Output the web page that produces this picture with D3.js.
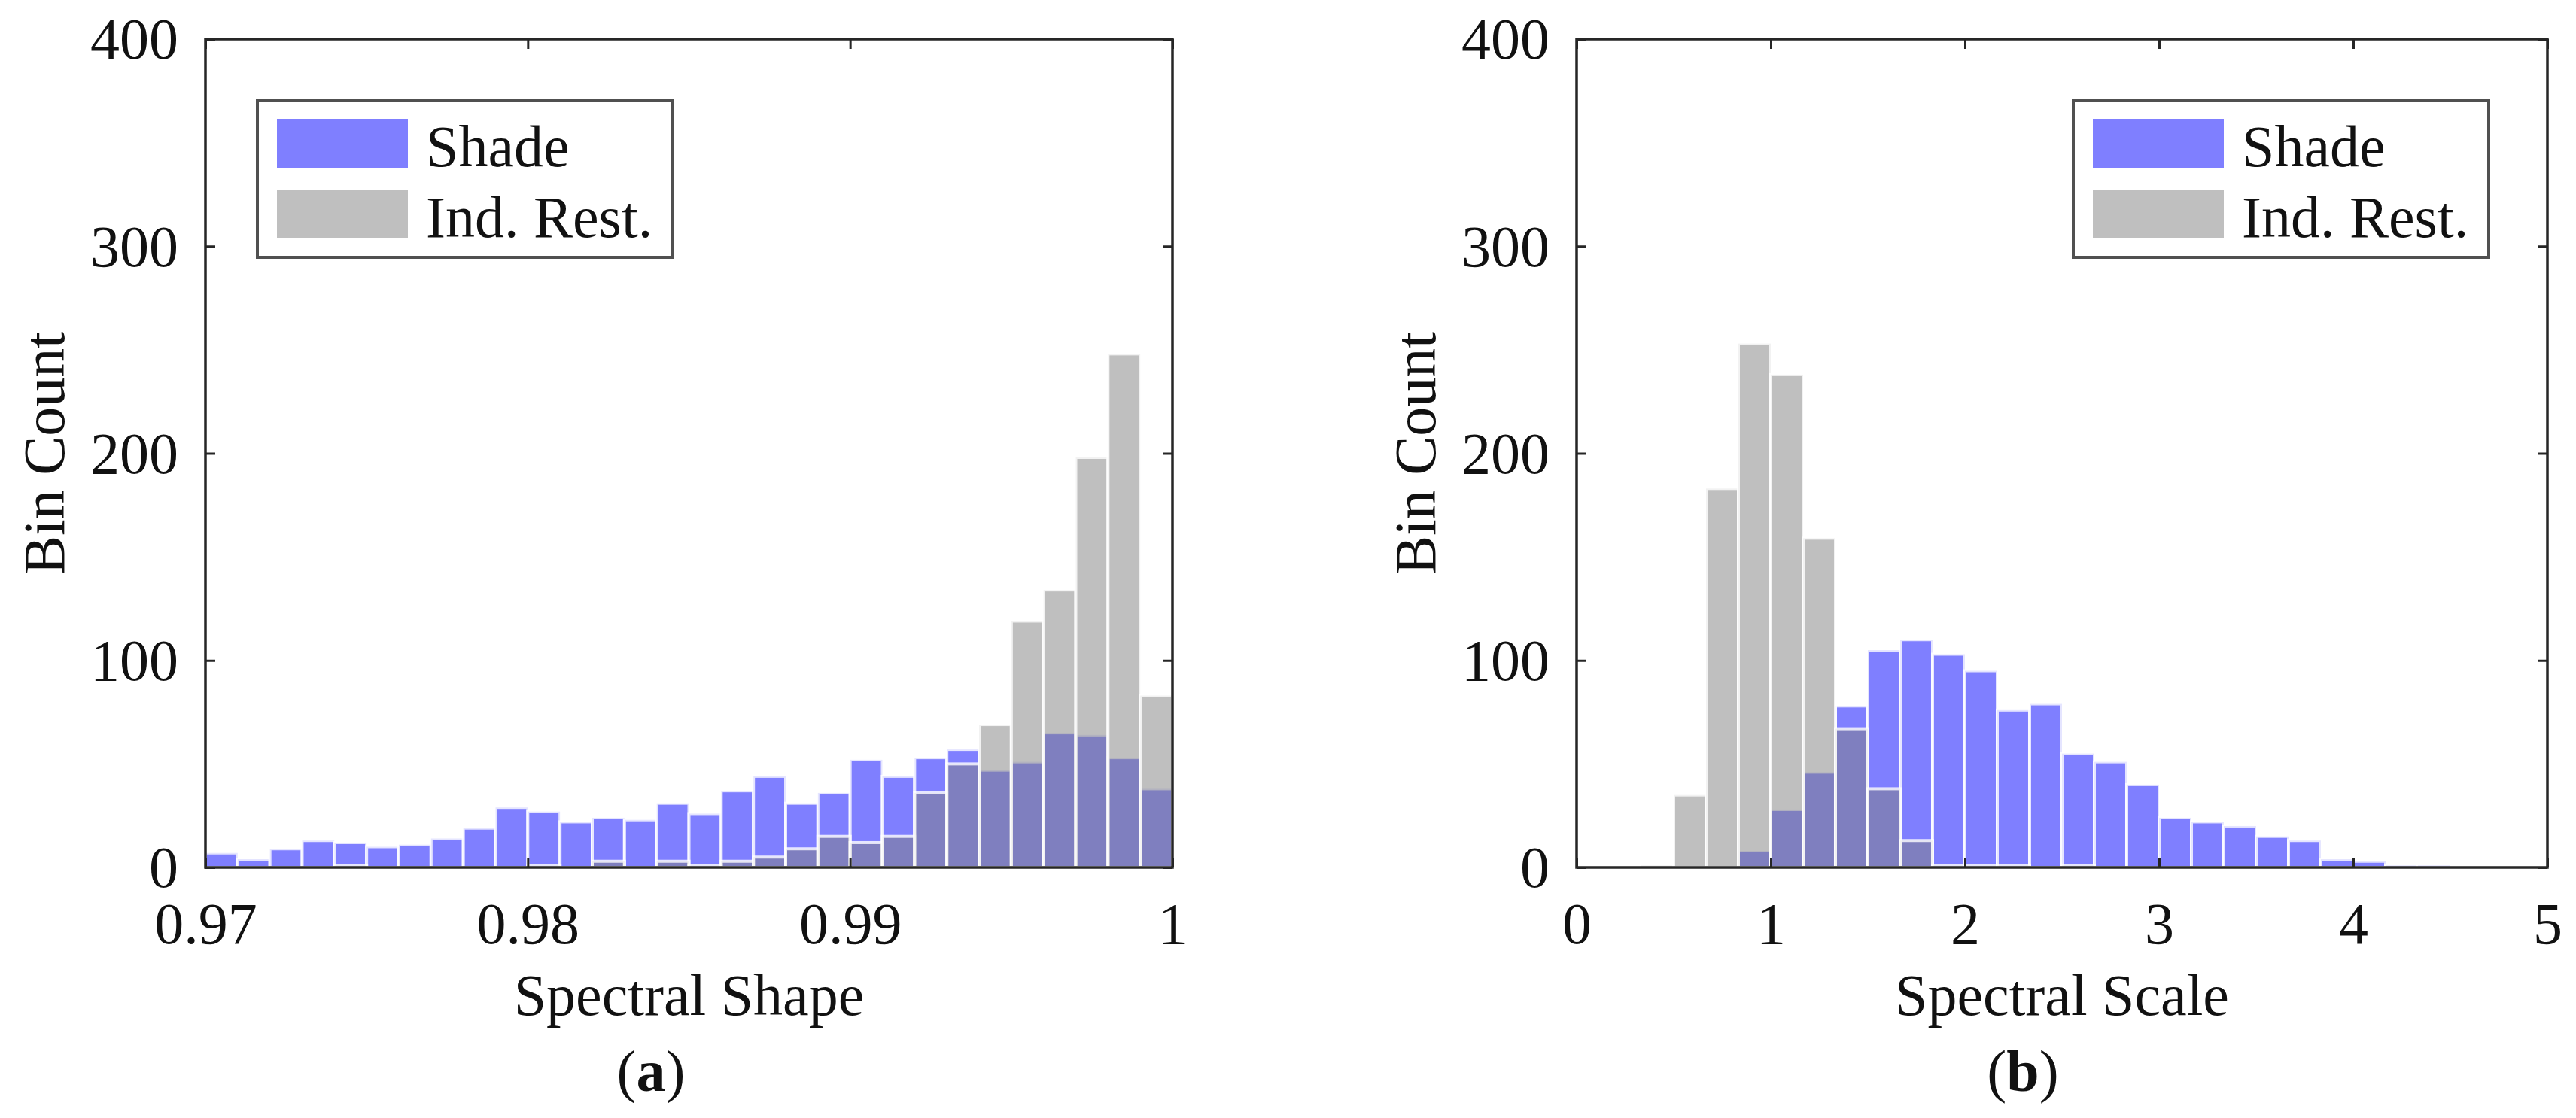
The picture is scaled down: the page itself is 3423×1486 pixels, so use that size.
<!DOCTYPE html>
<html>
<head>
<meta charset="utf-8">
<script src="https://cdn.jsdelivr.net/npm/d3@7"></script>
<style>
  html, body { margin: 0; padding: 0; background: #fff; }
  svg { display: block; }
  text { font-family: "Liberation Serif", "Times New Roman", serif; fill: #111; }
</style>
</head>
<body>
<svg id="chart" width="3423" height="1486"></svg>
<script>
// ---------------- DATA ----------------
// Panel (a): Spectral Shape, bin edges
const shapeEdges = [0.970, 0.971, 0.972, 0.973, 0.974, 0.975, 0.976, 0.977, 0.978, 0.979,
                    0.980, 0.981, 0.982, 0.983, 0.984, 0.985, 0.986, 0.987, 0.988, 0.989,
                    0.990, 0.991, 0.992, 0.993, 0.994, 0.995, 0.996, 0.997, 0.998, 0.999, 1.000];
const shapeShade   = [7, 4, 9, 13, 12, 10, 11, 14, 19, 29, 27, 22, 24, 23, 31, 26, 37, 44, 31, 36,
                      52, 44, 53, 57, 47, 51, 65, 64, 53, 38];
const shapeIndRest = [0, 0, 0, 0, 1, 0, 0, 0, 0, 0, 1, 0, 3, 0, 3, 1, 3, 5, 9, 15,
                      12, 15, 36, 50, 69, 119, 134, 198, 248, 83];
const shapeTicks = [0.97, 0.98, 0.99, 1.0];
const shapeTickLabels = ["0.97", "0.98", "0.99", "1"];

// Panel (b): Spectral Scale, bin edges
const scaleEdges = [0, 0.1667, 0.3333, 0.5, 0.6667, 0.8333, 1, 1.1667, 1.3333, 1.5, 1.6667, 1.8333,
                    2, 2.1667, 2.3333, 2.5, 2.6667, 2.8333, 3, 3.1667, 3.3333, 3.5, 3.6667, 3.8333,
                    4, 4.1667, 4.3333, 4.5, 4.6667, 4.8333, 5];
const scaleShade   = [0, 0, 0, 0, 0, 8, 28, 46, 78, 105, 110, 103, 95, 76, 79, 55, 51, 40, 24, 22,
                      20, 15, 13, 4, 3, 1, 1, 0, 0, 0];
const scaleIndRest = [0, 0, 1, 35, 183, 253, 238, 159, 67, 38, 13, 1, 1, 1, 0, 1, 0, 0, 0, 0,
                      0, 0, 0, 0, 0, 0, 0, 0, 0, 0];
const scaleTicks = [0, 1, 2, 3, 4, 5];
const scaleTickLabels = ["0", "1", "2", "3", "4", "5"];

const yTicks = [0, 100, 200, 300, 400];
const yTickLabels = ["0", "100", "200", "300", "400"];
const seriesNames = ["Shade", "Ind. Rest."];
const xTitles = ["Spectral Shape", "Spectral Scale"];
const yTitle = "Bin Count";
const captions = ["a", "b"];

// ---------------- STYLE ----------------
const FS = 78;
const axisColor = "#262626";
const shadeFill = "rgb(0,0,255)";
const restFill = "rgb(128,128,128)";

const svg = d3.select("#chart");

function panel(cfg) {
  const {x0, x1, y0, y1, edges, shade, rest, domain, ticks, tickLabels, xTitle, caption, captionX, legend} = cfg;
  const x = d3.scaleLinear().domain(domain).range([x0, x1]);
  const y = d3.scaleLinear().domain([0, 400]).range([y0, y1]);
  const g = svg.append("g");

  const bins = shade.map((v, i) => ({a: edges[i], b: edges[i + 1], shade: v, rest: rest[i]}));

  // Shade bars (drawn first)
  g.append("g").selectAll("rect").data(bins.filter(d => d.shade > 0)).join("rect")
    .attr("x", d => x(d.a)).attr("width", d => x(d.b) - x(d.a))
    .attr("y", d => y(d.shade)).attr("height", d => y(0) - y(d.shade))
    .attr("fill", shadeFill).attr("fill-opacity", 0.5)
    .attr("stroke", "#fff").attr("stroke-opacity", 0.8).attr("stroke-width", 4);

  // Ind. Rest. bars (on top)
  g.append("g").selectAll("rect").data(bins.filter(d => d.rest > 0)).join("rect")
    .attr("x", d => x(d.a)).attr("width", d => x(d.b) - x(d.a))
    .attr("y", d => y(d.rest)).attr("height", d => y(0) - y(d.rest))
    .attr("fill", restFill).attr("fill-opacity", 0.5)
    .attr("stroke", "#fff").attr("stroke-opacity", 0.8).attr("stroke-width", 4);

  // Axes
  const tl = 13;
  const xb = g.append("g").attr("transform", `translate(0,${y0})`)
    .call(d3.axisBottom(x).tickValues(ticks).tickSize(-tl).tickPadding(46)
      .tickFormat((d, i) => tickLabels[i]));
  const xt = g.append("g").attr("transform", `translate(0,${y1})`)
    .call(d3.axisTop(x).tickValues(ticks).tickSize(-tl).tickFormat(""));
  const yl = g.append("g").attr("transform", `translate(${x0},0)`)
    .call(d3.axisLeft(y).tickValues(yTicks).tickSize(-tl).tickPadding(36)
      .tickFormat((d, i) => yTickLabels[i]));
  const yr = g.append("g").attr("transform", `translate(${x1},0)`)
    .call(d3.axisRight(y).tickValues(yTicks).tickSize(-tl).tickFormat(""));
  [xb, xt, yl, yr].forEach(a => {
    a.select(".domain").remove();
    a.selectAll(".tick line").attr("stroke", axisColor).attr("stroke-width", 3);
    a.selectAll(".tick text").attr("font-size", FS).attr("fill", "#111")
      .attr("font-family", '"Liberation Serif", "Times New Roman", serif');
  });
  yl.selectAll(".tick text").attr("dy", "0.33em");

  // Box
  g.append("rect").attr("x", x0).attr("y", y1).attr("width", x1 - x0).attr("height", y0 - y1)
    .attr("fill", "none").attr("stroke", axisColor).attr("stroke-width", 3.5);

  // Titles
  g.append("text").attr("x", (x0 + x1) / 2).attr("y", y0 + 196)
    .attr("text-anchor", "middle").attr("font-size", FS).text(xTitle);
  g.append("text").attr("transform", `translate(${x0 - 188},${(y0 + y1) / 2}) rotate(-90)`)
    .attr("text-anchor", "middle").attr("font-size", FS).text(yTitle);
  const cap = g.append("text").attr("x", captionX).attr("y", y0 + 297)
    .attr("text-anchor", "middle").attr("font-size", FS);
  cap.append("tspan").text("(");
  cap.append("tspan").attr("font-weight", "bold").text(caption);
  cap.append("tspan").text(")");

  // Legend
  const lg = g.append("g").attr("transform", `translate(${legend.x},${legend.y})`);
  lg.append("rect").attr("width", 552).attr("height", 209)
    .attr("fill", "#fff").attr("stroke", "#505050").attr("stroke-width", 4);
  const cols = [[shadeFill, 0.5], [restFill, 0.5]];
  seriesNames.forEach((name, i) => {
    lg.append("rect").attr("x", 26).attr("y", 25 + i * 94).attr("width", 174).attr("height", 65)
      .attr("fill", cols[i][0]).attr("fill-opacity", cols[i][1]);
    lg.append("text").attr("x", 224).attr("y", 88 + i * 94).attr("font-size", FS).text(name);
  });
}

panel({x0: 273, x1: 1558, y0: 1153, y1: 52, edges: shapeEdges, shade: shapeShade, rest: shapeIndRest,
       domain: [0.97, 1.0], ticks: shapeTicks, tickLabels: shapeTickLabels, xTitle: xTitles[0],
       caption: captions[0], captionX: 865, legend: {x: 342, y: 133}});
panel({x0: 2095, x1: 3385, y0: 1153, y1: 52, edges: scaleEdges, shade: scaleShade, rest: scaleIndRest,
       domain: [0, 5], ticks: scaleTicks, tickLabels: scaleTickLabels, xTitle: xTitles[1],
       caption: captions[1], captionX: 2688, legend: {x: 2755, y: 133}});
</script>
</body>
</html>
